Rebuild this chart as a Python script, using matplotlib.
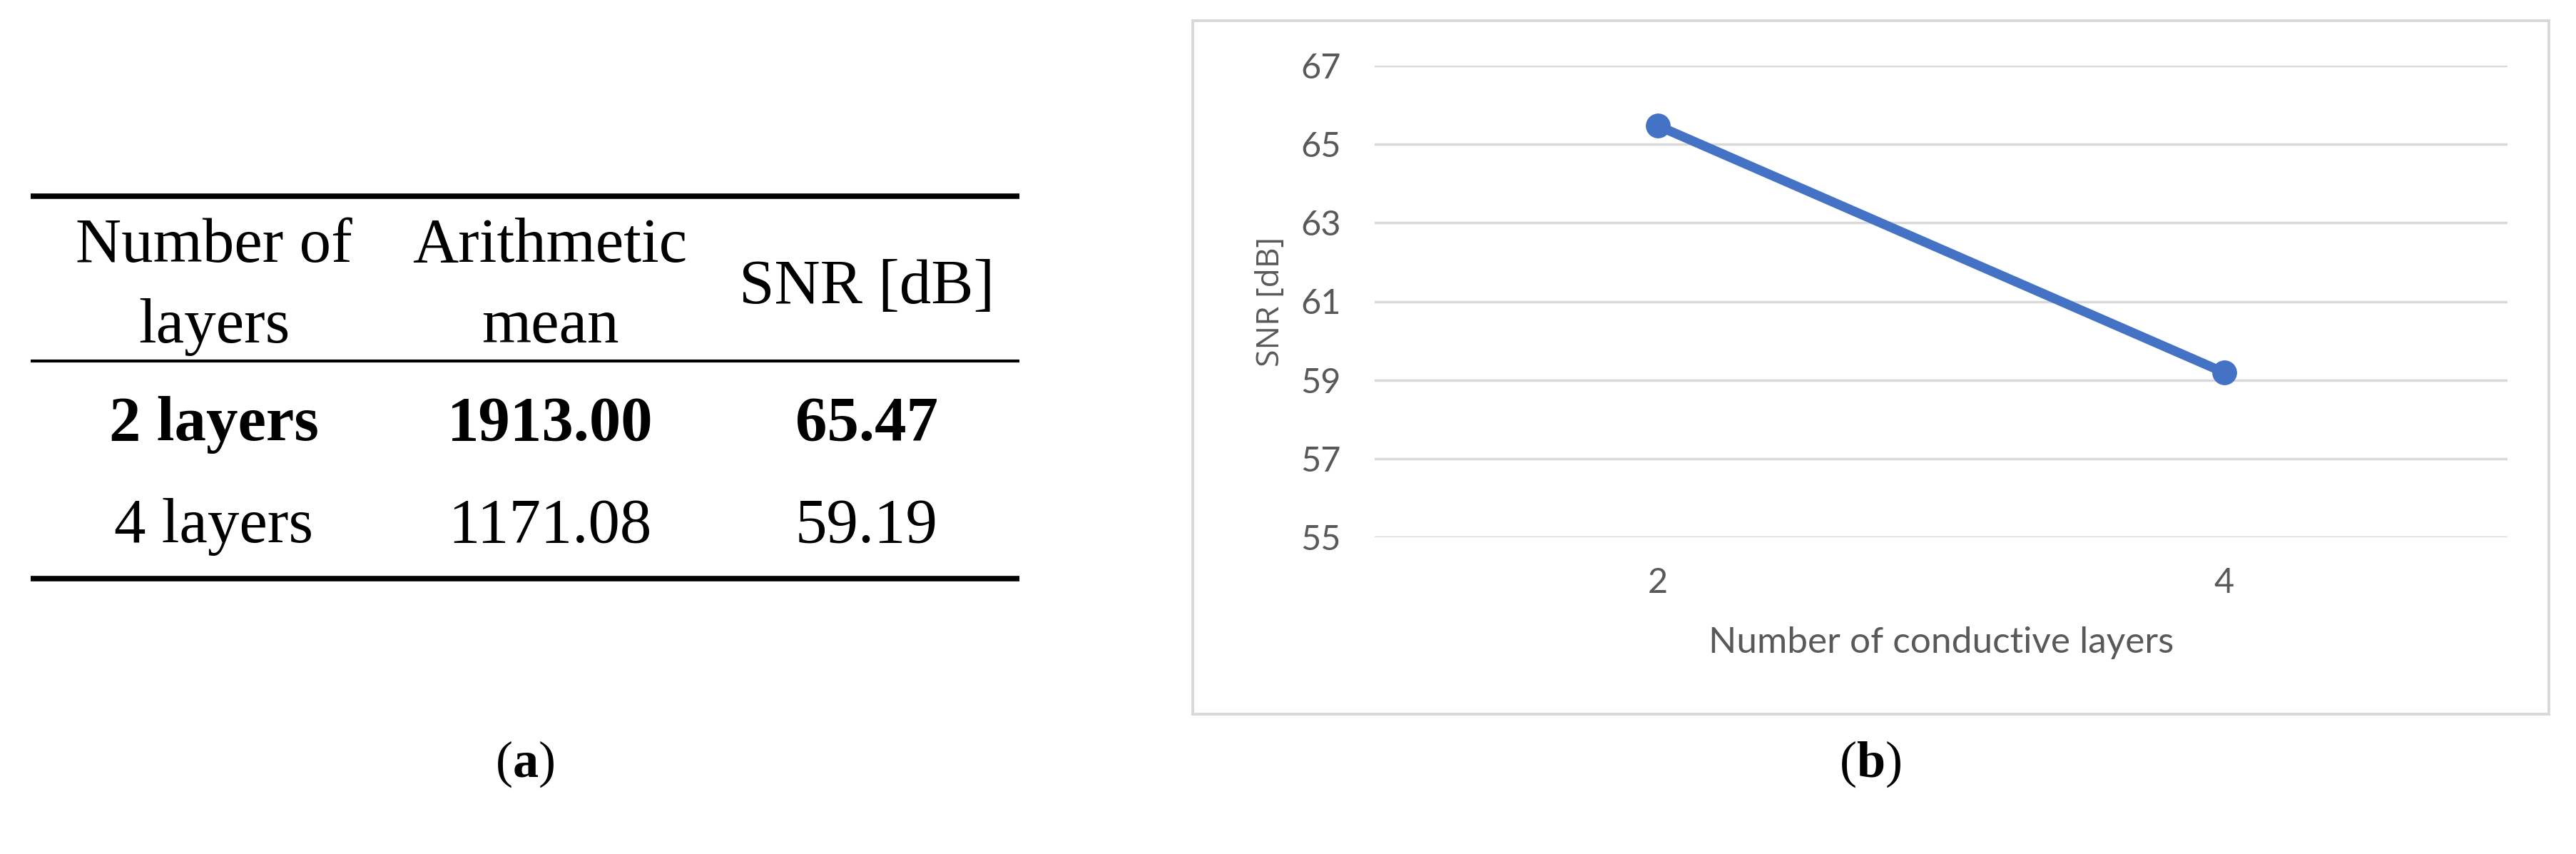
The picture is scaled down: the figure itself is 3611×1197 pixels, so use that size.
import matplotlib
matplotlib.use("Agg")
import matplotlib.pyplot as plt
from matplotlib.patches import Rectangle

# ---------------- data ----------------
header = ["Number of\nlayers", "Arithmetic\nmean", "SNR [dB]"]
row_labels = ["2 layers", "4 layers"]
arith_mean = [1913.00, 1171.08]
snr_db = [65.47, 59.19]
layers = ["2", "4"]
yticks = [55, 57, 59, 61, 63, 65, 67]
xlabel = "Number of conductive layers"
ylabel = "SNR [dB]"
panel_labels = ["a", "b"]

W, H = 3611, 1197
DPI = 100
plt.rcParams["mathtext.fontset"] = "custom"
plt.rcParams["mathtext.rm"] = "Liberation Serif"
plt.rcParams["mathtext.bf"] = "Liberation Serif:bold"

fig = plt.figure(figsize=(W / DPI, H / DPI), dpi=DPI)
fig.patch.set_facecolor("white")

# overlay axes in pixel coordinates for the table and captions
ov = fig.add_axes([0, 0, 1, 1])
ov.set_xlim(0, W)
ov.set_ylim(H, 0)
ov.axis("off")

serif = "Liberation Serif"
tfs = 64
col_x = [300, 771, 1215]
# rules
ov.plot([43, 1429], [275, 275], color="black", lw=5.5, solid_capstyle="butt")
ov.plot([43, 1429], [506, 506], color="black", lw=3.0, solid_capstyle="butt")
ov.plot([43, 1429], [811, 811], color="black", lw=5.5, solid_capstyle="butt")

# header
for cx, h in zip(col_x, header):
    lines = h.split("\n")
    if len(lines) == 2:
        bases = [367, 480]
    else:
        bases = [425]
    for b, ln in zip(bases, lines):
        ov.text(cx, b, ln, ha="center", va="baseline", fontsize=tfs, family=serif)

row_base = [617, 760]
for i in range(len(row_labels)):
    fw = "bold" if i == 0 else "normal"
    vals = [row_labels[i], f"{arith_mean[i]:.2f}", f"{snr_db[i]:.2f}"]
    for cx, v in zip(col_x, vals):
        ov.text(cx, row_base[i], v, ha="center", va="baseline", fontsize=tfs,
                family=serif, fontweight=fw)

# captions
for cx, lab in zip([736, 2622], panel_labels):
    ov.text(cx, 1071, "($\\mathbf{" + lab + "}$)", ha="center", va="center",
            fontsize=52, family=serif)

# border box of chart (b)
ov.add_patch(Rectangle((1672, 29), 3573 - 1672, 1001 - 29, fill=False,
                       edgecolor="#d9d9d9", lw=2.9))

# ---------------- chart (b) ----------------
left, right, top, bottom = 1927, 3515, 92, 753
ax = fig.add_axes([left / W, 1 - bottom / H, (right - left) / W, (bottom - top) / H])
ax.set_facecolor("none")
xs = list(range(len(layers)))
ax.plot(xs, snr_db, color="#4472C4", lw=9.5, marker="o", markersize=24,
        solid_capstyle="round", clip_on=False, zorder=3)
ax.set_xlim(-0.5, len(layers) - 0.5)
ax.set_ylim(min(yticks), max(yticks))
ax.set_yticks(yticks)
ax.set_xticks(xs)
ax.set_xticklabels(layers)
ax.grid(axis="y", color="#d9d9d9", lw=2.5)
ax.grid(axis="x", visible=False)
ax.set_axisbelow(True)
for s in ax.spines.values():
    s.set_visible(False)
ax.tick_params(axis="both", length=0, labelcolor="#595959", labelsize=35)
ax.tick_params(axis="y", pad=34)
ax.tick_params(axis="x", pad=30)
for lab in ax.get_xticklabels() + ax.get_yticklabels():
    lab.set_family("Lato")
ax.set_xlabel(xlabel, family="Lato", fontsize=37, color="#595959", labelpad=28)
ax.set_ylabel(ylabel, family="Open Sans", fontsize=32, color="#595959", labelpad=14)

fig.savefig("out.png", dpi=DPI, facecolor="white")
